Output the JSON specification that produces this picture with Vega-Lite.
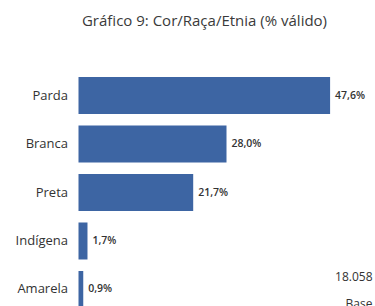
{
  "$schema": "https://vega.github.io/schema/vega-lite/v6.json",
  "autosize": {"type": "none"},
  "width": 296,
  "height": 235,
  "padding": {"left": 78.5, "top": 71, "right": 0, "bottom": 0},
  "background": "#ffffff",
  "config": {"view": {"stroke": null}, "font": "Open Sans"},
  "title": {
    "text": "Gráfico 9: Cor/Raça/Etnia (% válido)",
    "anchor": "middle",
    "frame": "group",
    "dx": -22,
    "offset": 42,
    "fontSize": 15,
    "fontWeight": "normal",
    "font": "Open Sans",
    "color": "#3a3a3a"
  },
  "data": {
    "values": [
      {"categoria": "Parda", "pct": 47.6, "rotulo": "47,6%"},
      {"categoria": "Branca", "pct": 28.0, "rotulo": "28,0%"},
      {"categoria": "Preta", "pct": 21.7, "rotulo": "21,7%"},
      {"categoria": "Indígena", "pct": 1.7, "rotulo": "1,7%"},
      {"categoria": "Amarela", "pct": 0.9, "rotulo": "0,9%"}
    ]
  },
  "encoding": {
    "y": {
      "field": "categoria",
      "type": "nominal",
      "sort": null,
      "scale": {"range": [0, 243], "paddingInner": 0.237, "paddingOuter": 0.124},
      "axis": {
        "title": null,
        "ticks": false,
        "domain": false,
        "labelPadding": 11,
        "labelFontSize": 13,
        "labelColor": "#333333",
        "labelFont": "Open Sans"
      }
    }
  },
  "layer": [
    {
      "mark": {"type": "bar", "color": "#3d65a3"},
      "encoding": {
        "x": {
          "field": "pct",
          "type": "quantitative",
          "scale": {"domain": [0, 56], "nice": false},
          "axis": null
        }
      }
    },
    {
      "mark": {"type": "text", "align": "left", "dx": 5, "fontSize": 10.5, "fontWeight": 600, "color": "#333333", "font": "Open Sans"},
      "encoding": {
        "x": {"field": "pct", "type": "quantitative"},
        "text": {"field": "rotulo"}
      }
    },
    {
      "data": {"values": [{"categoria": "Amarela", "pos": 56, "nota": "18.058\nBase"}]},
      "mark": {"type": "text", "align": "right", "baseline": "middle", "dx": -2, "dy": -12, "lineBreak": "\n", "lineHeight": 27, "fontSize": 12, "color": "#333333", "font": "Open Sans"},
      "encoding": {
        "x": {"field": "pos", "type": "quantitative"},
        "text": {"field": "nota"}
      }
    }
  ]
}
